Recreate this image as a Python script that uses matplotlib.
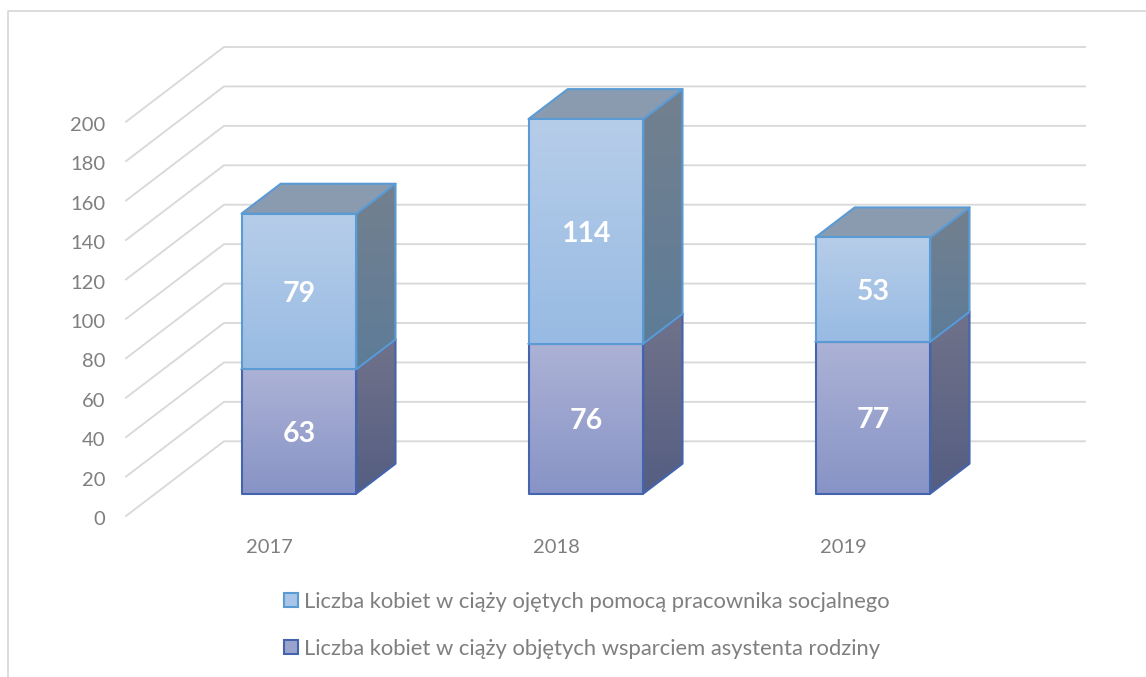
import numpy as np
from matplotlib import pyplot as plt
from matplotlib.colors import LinearSegmentedColormap
from matplotlib.lines import Line2D
from matplotlib.patches import Patch, Polygon
from matplotlib.transforms import ScaledTranslation

years = ['2017', '2018', '2019']
asystent = [63, 76, 77]
pracownik = [79, 114, 53]
y_ticks = list(range(0, 201, 20))
label_top = 'Liczba kobiet w ciąży ojętych pomocą pracownika socjalnego'
label_bottom = 'Liczba kobiet w ciąży objętych wsparciem asystenta rodziny'

# oblique "3D" look: how far one full floor depth moves a point, in data units
DEPTH_X = 98 / 287
DEPTH_Y = 74.7 / 1.9715
BAR_W = 0.4
D_FRONT, D_BACK = 0.3, 0.7
Y_MAX = 250  # axes go higher than the last tick so the bar images are not cut

GRID = '#d9d9d9'
TEXT = '#7f7f7f'

plt.rcParams['font.family'] = ['Lato', 'DejaVu Sans']

fig = plt.figure(figsize=(11.46, 6.77), dpi=100)
ax = fig.add_axes([126 / 1146, 1 - 516 / 677, 861 / 1146, 394.3 / 677 * Y_MAX / 200])


def shift(x, y, d):
    return x + d * DEPTH_X, y + d * DEPTH_Y


def face(pts, c1, c2, edge):
    # vertical gradient clipped to the polygon, c1 on top
    pts = np.array(pts)
    cmap = LinearSegmentedColormap.from_list('f', [c1, c2])
    im = ax.imshow(np.linspace(0, 1, 64).reshape(-1, 1), cmap=cmap, aspect='auto',
                   extent=(pts[:, 0].min(), pts[:, 0].max(), pts[:, 1].min(), pts[:, 1].max()),
                   zorder=3, interpolation='bilinear')
    poly = Polygon(pts, closed=True, fc='none', ec=edge, lw=1.5, zorder=3, clip_on=False,
                   joinstyle='round')
    ax.add_patch(poly)
    im.set_clip_path(poly)


def bar3d(i, y0, y1, cols):
    left = i - BAR_W / 2
    right = i + BAR_W / 2
    fl = shift(left, y0, D_FRONT)
    fr = shift(right, y0, D_FRONT)
    bl = shift(right, y0, D_BACK)
    tfl = shift(left, y1, D_FRONT)
    tfr = shift(right, y1, D_FRONT)
    tbr = shift(right, y1, D_BACK)
    tbl = shift(left, y1, D_BACK)
    face([fr, bl, tbr, tfr], cols['side1'], cols['side2'], cols['edge'])
    face([tfl, tfr, tbr, tbl], cols['top'], cols['top'], cols['edge'])
    face([fl, fr, tfr, tfl], cols['front1'], cols['front2'], cols['edge'])
    cx, cy = shift(i, (y0 + y1) / 2, D_FRONT)
    ax.text(cx, cy - 1.3, str(int(y1 - y0)), color='white', fontsize=20.5, fontweight='bold',
            ha='center', va='center', zorder=4)


blue = {'front1': '#b6cde9', 'front2': '#98bbe3', 'side1': '#73808f', 'side2': '#5e7c98',
        'top': '#8a9bb0', 'edge': '#5b9bd5'}
navy = {'front1': '#acb2d6', 'front2': '#8894c6', 'side1': '#70728a', 'side2': '#555e82',
        'top': '#70728a', 'edge': '#4464ad'}

# back wall + left wall gridlines
for v in y_ticks:
    x_back, y_back = shift(-0.5, v, 1)
    ax.plot([-0.5, x_back, 2.5 + DEPTH_X], [v, y_back, y_back], color=GRID, lw=1.35,
            zorder=1, clip_on=False, solid_joinstyle='miter')

for i in range(len(years)):
    bar3d(i, 0, asystent[i], navy)
    bar3d(i, asystent[i], asystent[i] + pracownik[i], blue)

ax.set_xlim(-0.5, 2.5)
ax.set_ylim(0, Y_MAX)
ax.set_xticks(range(len(years)), years)
ax.set_yticks(y_ticks)
ax.tick_params(axis='both', length=0, labelcolor=TEXT, labelsize=14.5)
ax.tick_params(axis='x', pad=16.5)
ax.tick_params(axis='y', pad=15)
for lab in ax.get_yticklabels():
    lab.set_transform(lab.get_transform() + ScaledTranslation(0, -1.5 / 72, fig.dpi_scale_trans))
for s in ax.spines.values():
    s.set_visible(False)
ax.patch.set_alpha(0)

handles = [Patch(fc='#a9c6e7', ec='#5b9bd5', lw=1.5), Patch(fc='#9aa3cd', ec='#4464ad', lw=1.5)]
ax.legend(handles, [label_top, label_bottom], loc='upper left',
          bbox_to_anchor=(284 / 1146, 1 - 592 / 677), bbox_transform=fig.transFigure,
          frameon=False, fontsize=15.85, labelcolor=TEXT, labelspacing=1.22,
          handlelength=0.63, handleheight=0.63, handletextpad=0.28, borderpad=0, borderaxespad=0)

# chart frame, only top and left sides are in the picture
fig.add_artist(Line2D([7.5 / 1146, 7.5 / 1146, 1], [0, 1 - 10.5 / 677, 1 - 10.5 / 677],
                      color=GRID, lw=1.3))

fig.savefig('out.png', dpi=100)
